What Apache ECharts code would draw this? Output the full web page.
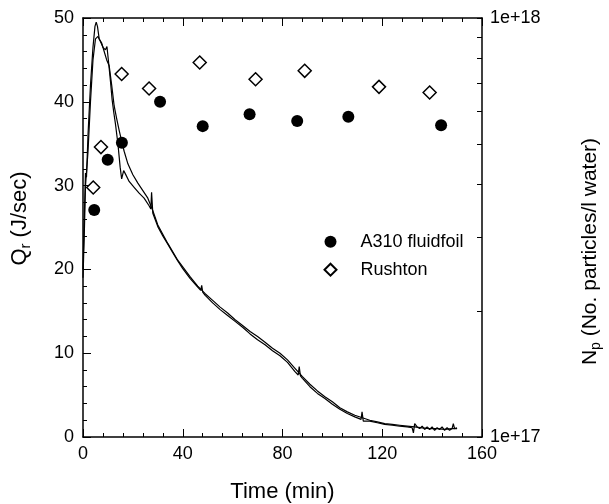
<!DOCTYPE html>
<html>
<head>
<meta charset="utf-8">
<script src="https://cdn.jsdelivr.net/npm/echarts@6/dist/echarts.min.js"></script>
<style>html,body{margin:0;padding:0;background:#fff}#c{width:609px;height:504px}</style>
</head>
<body>
<div id="c"></div>
<script>
// Heat curve 1 (taller peak) : time (min), Qr (J/sec)
var t1 = [0,0.5,1,1.4,2,3,4,4.8,5.3,5.8,6.5,7.5,8.5,9.5,10.5,11.5,12.5,13.5,14.5,15.5,16.5,18,20,22,24,26,28,30,32,34,36,38,40,43,46,49,52,55,58,61,64,67,70,73,76,79,82,85,88,91,94,97,100,103,106,109,112,115,118,121,124,127,130,133,136,139,142,145,148,150];
var q1 = [20,26,31.5,31,36,42,46.5,49,49.5,49,47.5,47,46,45,44.3,42,39.5,38,36.6,35.3,34.1,32.6,31.3,30.3,29.4,28.5,27,25.3,24.2,23.1,22.1,21.1,20.3,19.1,18.0,17.1,16.3,15.5,14.8,14.0,13.3,12.6,12.0,11.3,10.6,10.0,9.2,8.2,7.2,6.3,5.5,4.8,4.2,3.5,3.0,2.6,2.3,2.0,1.8,1.6,1.5,1.4,1.3,1.2,1.1,1.0,1.0,0.9,1.0,1.0];
// Heat curve 2 (lower peak, with dip)
var t2 = [0,0.5,1,1.5,2,3,4,5,6,7,8,9,9.6,10.3,11,11.7,12.4,13,14,14.9,15.5,16.3,17,18.5,20.5,22.5,24.5,26.5,27.2,27.5,28,30,32,34,36,38,40,43,46,47.2,47.6,48,49,52,55,58,61,64,67,70,73,76,79,82,85,86.3,86.7,87.2,88,91,94,97,100,103,106,109,111.5,111.9,112.4,115,118,121,124,127,130,132,132.5,133,134,135,136,137,138,139,140,141,142,143,144,145,146,147,148,148.5,149,150];
var q2 = [19,24,30,32,34,40,45,47.5,47.8,47.2,46.5,46.2,46.6,44.6,42.5,40.2,38.6,37.4,35,32.2,30.8,31.8,31.4,30.5,29.8,29.1,28.5,27.6,27.2,29.2,26.7,25.1,24.0,23.0,22.0,21.0,20.1,18.9,17.9,17.5,18.1,17.3,16.9,16.0,15.2,14.5,13.8,13.1,12.3,11.6,11.0,10.3,9.7,8.9,7.8,7.4,8.4,7.3,7.0,6.0,5.2,4.6,3.9,3.3,2.8,2.4,2.1,3.0,1.9,1.9,1.7,1.5,1.4,1.3,1.2,1.1,0.5,1.6,1.2,1.0,1.3,0.9,1.2,0.9,1.2,0.8,1.1,0.9,1.2,0.8,1.1,0.8,1.0,1.6,1.0,1.1];
// Particle counts Np (No. particles / l water)
var a310T  = [4.5,9.9,15.6,30.9,48,66.8,85.9,106.4,143.6];
var a310Np = [3.48e17,4.59e17,5.04e17,6.31e17,5.52e17,5.89e17,5.68e17,5.81e17,5.55e17];
var rushT  = [4.1,7.2,15.5,26.5,46.8,69.2,88.9,118.7,139];
var rushNp = [3.94e17,4.92e17,7.35e17,6.79e17,7.83e17,7.14e17,7.48e17,6.85e17,6.64e17];
var legendNames = ['A310 fluidfoil','Rushton'];
var xTicks = [0,160,40];       // min, max, interval
var yTicks = [0,50,10];
var npRange = [1e17,1e18];
var npMinorMultiples = [2,3,4,5,6,7,8,9];

function zip(a,b){var r=[];for(var i=0;i<a.length;i++)r.push([a[i],b[i]]);return r;}
var FF = 'Liberation Sans, Arial, Helvetica, sans-serif';
var black = '#000';
var axisLine = {show:true, onZero:false, lineStyle:{color:black, width:1.5}};
var majTick = {show:true, inside:true, length:8, lineStyle:{color:black, width:1}};
var minTick = {show:true, splitNumber:5, length:4, lineStyle:{color:black, width:1}};
var lbl = {color:black, fontSize:18, fontFamily:FF};

var chart = echarts.init(document.getElementById('c'), null, {renderer:'canvas'});
chart.setOption({
  animation:false,
  backgroundColor:'#fff',
  grid:{left:83, right:127, top:18, bottom:67, containLabel:false, outerBoundsMode:'none'},
  legend:{
    data:legendNames, orient:'vertical', left:318.5, top:227.7, padding:5,
    itemWidth:12, itemHeight:12, itemGap:10,
    textStyle:{color:black, fontSize:18, fontFamily:FF, lineHeight:18, padding:[0,0,0,19]},
    selectedMode:false
  },
  xAxis:[
    {type:'value', position:'bottom', min:xTicks[0], max:xTicks[1], interval:xTicks[2],
     axisLine:axisLine, axisTick:majTick, minorTick:minTick, splitLine:{show:false},
     axisLabel:Object.assign({margin:8}, lbl),
     name:'Time (min)', nameLocation:'middle', nameGap:44,
     nameTextStyle:{color:black, fontSize:22, fontFamily:FF}},
    {type:'value', position:'top', min:xTicks[0], max:xTicks[1], interval:xTicks[2],
     axisLine:axisLine, axisTick:majTick, minorTick:minTick, splitLine:{show:false},
     axisLabel:{show:false}}
  ],
  yAxis:[
    {type:'value', position:'left', min:yTicks[0], max:yTicks[1], interval:yTicks[2],
     axisLine:axisLine, axisTick:majTick, minorTick:minTick, splitLine:{show:false},
     axisLabel:Object.assign({margin:9}, lbl),
     name:'{m|Q}{s|r}{m| (J/sec)}', nameLocation:'middle', nameGap:50,
     nameTextStyle:{padding:[0,0,0,18], rich:{
       m:{fontSize:22, fontFamily:FF, color:black, lineHeight:26},
       s:{fontSize:15, fontFamily:FF, color:black, lineHeight:15, verticalAlign:'bottom'}}}},
    {type:'log', logBase:10, position:'right', min:npRange[0], max:npRange[1],
     axisLine:axisLine, axisTick:{show:true, inside:true, length:5, lineStyle:{color:black, width:1}},
     splitLine:{show:false},
     axisLabel:Object.assign({margin:8, formatter:function(v){return Number(v).toExponential(0);}}, lbl),
     name:'{m|N}{s|p}{m| (No. particles/l water)}', nameLocation:'middle', nameGap:95,
     nameTextStyle:{padding:[0,48,0,0], rich:{
       m:{fontSize:21, fontFamily:FF, color:black, lineHeight:26},
       s:{fontSize:14, fontFamily:FF, color:black, lineHeight:14, verticalAlign:'bottom'}}}},
    {type:'value', position:'right', min:0, max:1,
     axisLine:{show:false, onZero:false}, splitLine:{show:false}, axisLabel:{show:false},
     axisTick:{show:true, inside:true, length:5, lineStyle:{color:black, width:1},
       customValues:npMinorMultiples.map(function(k){return Math.log10(k);})}}
  ],
  series:[
    {name:'curve1', type:'line', xAxisIndex:0, yAxisIndex:0, data:zip(t1,q1), showSymbol:false,
     lineStyle:{color:black, width:1.2}, z:2, silent:true},
    {name:'curve2', type:'line', xAxisIndex:0, yAxisIndex:0, data:zip(t2,q2), showSymbol:false,
     lineStyle:{color:black, width:1.2}, z:2, silent:true},
    {name:legendNames[0], type:'scatter', xAxisIndex:0, yAxisIndex:1, data:zip(a310T,a310Np),
     symbol:'circle', symbolSize:12, itemStyle:{color:black, opacity:1}, z:5},
    {name:legendNames[1], type:'scatter', xAxisIndex:0, yAxisIndex:1, data:zip(rushT,rushNp),
     symbol:'diamond', symbolSize:13, itemStyle:{color:'#fff', borderColor:black, borderWidth:1.5, opacity:1}, z:5}
  ]
});
</script>
</body>
</html>
